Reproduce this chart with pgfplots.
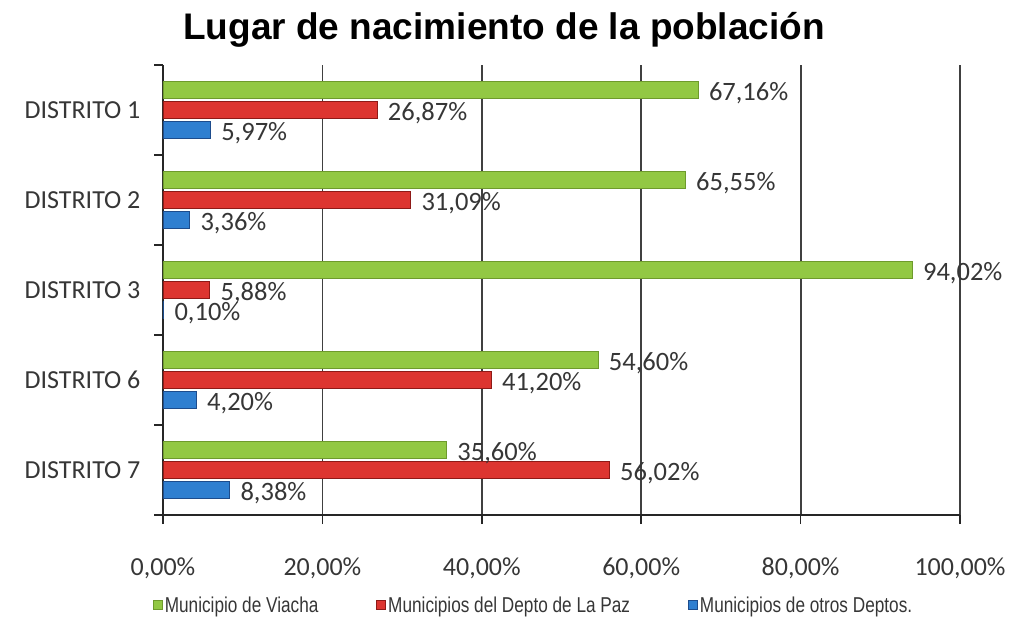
\documentclass[border=0pt]{standalone}
\usepackage{fontspec}
\usepackage{pgfplots}
\pgfplotsset{compat=1.18}
\setmainfont{Carlito}
\newfontfamily\titlefont{Liberation Sans}
\newfontfamily\narrowfont[FakeStretch=0.8]{Liberation Sans}

\definecolor{viacha}{HTML}{92C843}
\definecolor{viachaD}{HTML}{6E9A2C}
\definecolor{lapaz}{HTML}{DD3530}
\definecolor{lapazD}{HTML}{8E1A17}
\definecolor{otros}{HTML}{2F7FD0}
\definecolor{otrosD}{HTML}{1D4C8C}
\definecolor{txt}{HTML}{363636}

\begin{document}
\begin{tikzpicture}[x=1pt,y=1pt]
\useasboundingbox (0,0) rectangle (1013,618);

\node[font=\titlefont\bfseries\fontsize{37}{42}\selectfont, anchor=center]
  at (504,588) {Lugar de nacimiento de la población};

\begin{axis}[
  at={(163pt,103pt)}, anchor=south west,
  scale only axis, width=797pt, height=450pt,
  xmin=0, xmax=100, ymin=-0.5, ymax=4.5, y dir=reverse,
  xtick={0,20,40,60,80,100},
  xticklabels={{0,00\%},{20,00\%},{40,00\%},{60,00\%},{80,00\%},{100,00\%}},
  ytick={-0.5,0.5,1.5,2.5,3.5,4.5}, yticklabels={},
  extra y ticks={0,1,2,3,4},
  extra y tick labels={DISTRITO 1,DISTRITO 2,DISTRITO 3,DISTRITO 6,DISTRITO 7},
  extra y tick style={major tick length=0pt},
  tick align=outside, major tick length=9pt,
  tick style={draw=black!85, line width=1.6pt},
  xmajorgrids, grid style={draw=black!75, line width=1.8pt},
  axis x line*=bottom, axis y line*=left,
  axis line style={draw=black!85, line width=1.8pt, -},
  tick label style={font=\fontsize{26}{30}\selectfont, text=txt},
  xticklabel style={yshift=-30pt},
  yticklabel style={font=\fontsize{26}{30}\selectfont, xshift=-19pt},
  xbar, bar width=17pt,
  nodes near coords={\pgfmathprintnumber[fixed,fixed zerofill,precision=2,use comma,assume math mode=true]{\pgfplotspointmeta}\%},
  nodes near coords style={anchor=west, xshift=7pt, yshift=-3pt,
    font=\fontsize{26.5}{30}\selectfont, text=txt},
  point meta=x,
  legend columns=3,
  legend style={at={(0.465,-0.2)}, anchor=center, draw=none, fill=none,
    font=\narrowfont\fontsize{21.5}{24}\selectfont, text=txt,
    /tikz/every even column/.append style={column sep=56pt}},
  legend image code/.code={\fill[#1] (0pt,-4.5pt) rectangle (9pt,4.5pt);},
]
\addplot[bar shift=20pt, fill=viacha, draw=viachaD, line width=0.8pt]
  coordinates {(67.16,0) (65.55,1) (94.02,2) (54.60,3) (35.60,4)};
\addplot[bar shift=0pt, fill=lapaz, draw=lapazD, line width=0.8pt]
  coordinates {(26.87,0) (31.09,1) (5.88,2) (41.20,3) (56.02,4)};
\addplot[bar shift=-20pt, fill=otros, draw=otrosD, line width=0.8pt]
  coordinates {(5.97,0) (3.36,1) (0.10,2) (4.20,3) (8.38,4)};
\legend{Municipio de Viacha, Municipios del Depto de La Paz, Municipios de otros Deptos.}
\end{axis}
\end{tikzpicture}
\end{document}
